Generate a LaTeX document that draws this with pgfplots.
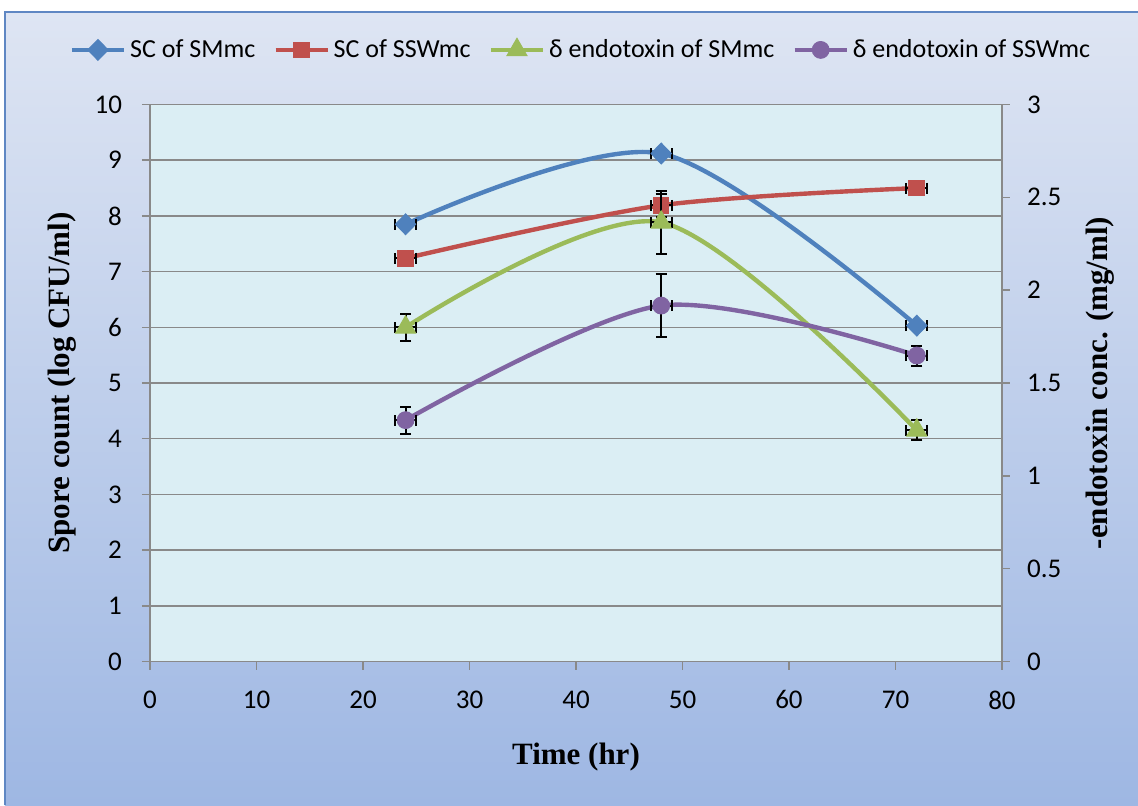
\documentclass[border=0pt]{standalone}
\usepackage{pgfplots}
\pgfplotsset{compat=1.18}
\usepackage{pgfplotstable}
\usepackage{fontspec}
\setmainfont{Carlito}
\newfontfamily\tnr{Liberation Serif}
\definecolor{c1}{RGB}{79,129,189}
\definecolor{c2}{RGB}{192,80,77}
\definecolor{c3}{RGB}{155,187,89}
\definecolor{c4}{RGB}{128,100,162}
\definecolor{plotbg}{RGB}{219,238,244}
\definecolor{gridc}{RGB}{137,137,137}
\definecolor{bgtop}{RGB}{222,229,243}
\definecolor{bgbot}{RGB}{158,183,227}
\definecolor{framec}{RGB}{95,135,195}

% Spore count (left axis)
\pgfplotstableread{
x y ex ey
24 7.85 1 0.05
48 9.12 1 0.07
72 6.03 1 0.05
}\scsm
\pgfplotstableread{
x y ex ey
24 7.24 1 0.05
48 8.19 1 0.21
72 8.50 1 0.03
}\scssw
% delta endotoxin (right axis)
\pgfplotstableread{
x y ex ey
24 1.800 1 0.073
48 2.365 1 0.170
72 1.245 1 0.054
}\dsm
\pgfplotstableread{
x y ex ey
24 1.300 1 0.073
48 1.917 1 0.170
72 1.648 1 0.054
}\dssw

\pgfplotsset{
  common/.style={scale only axis, width=426pt, height=278.5pt, xmin=0, xmax=80,
    tick align=outside, major tick length=4pt,
    tick style={gridc, line width=0.75pt},
    axis line style={gridc, line width=0.75pt, -},
    tick label style={font=\fontsize{13.5}{15}\selectfont},
    /pgf/number format/assume math mode=true,
    label style={font=\tnr\bfseries\fontsize{15.5}{18}\selectfont}},
  ser/.style={line width=2.2pt, smooth, tension=0.5,
    error bars/x dir=both, error bars/y dir=both,
    error bars/x explicit, error bars/y explicit,
    error bars/error mark=-,
    error bars/error bar style={black, line width=1pt, solid},
    error bars/error mark options={rotate=90, black, line width=1pt, mark size=2.75pt, solid}},
}

\begin{document}
\begin{tikzpicture}
\shade[top color=bgtop, bottom color=bgbot] (-72.5pt,-71.75pt) rectangle (494pt,324.75pt);
\draw[framec, line width=1pt] (-72.5pt,-71.75pt) -- (-72.5pt,324.75pt) -- (494pt,324.75pt);

\begin{axis}[common,
  ymin=0, ymax=10, ytick={0,1,...,10},
  xtick={0,10,...,80},
  axis x line*=bottom, axis y line*=left,
  axis background/.style={fill=plotbg},
  ymajorgrids, grid style={gridc, line width=0.75pt},
  yticklabel style={xshift=-6.5pt},
  xticklabel style={yshift=-7pt},
  xlabel={Time (hr)}, ylabel={Spore count (log CFU/ml)},
  xlabel style={at={(axis description cs:0.5,-0.1724)}, anchor=center},
  ylabel style={at={(axis description cs:-0.1033,0.5)}, anchor=center},
]
\addplot[c1, ser, mark=diamond*, mark options={xscale=1.3, fill=c1, draw=c1, line width=0.5pt, mark size=5.2pt}]
  table[x=x, y=y, x error=ex, y error=ey] {\scsm};
\addplot[c2, ser, mark=square*, mark options={fill=c2, draw=c2, line width=0.5pt, mark size=3.9pt}]
  table[x=x, y=y, x error=ex, y error=ey] {\scssw};
\end{axis}

\begin{axis}[common,
  ymin=0, ymax=3, ytick={0,0.5,1,1.5,2,2.5,3},
  axis y line*=right, axis x line=none,
  yticklabel style={xshift=5pt},
  ylabel={-endotoxin conc. (mg/ml)},
  ylabel style={at={(axis description cs:1.115,0.5)}, anchor=center},
  legend style={at={(axis description cs:0.507,1.098)}, anchor=center, draw=none, fill=none,
    font=\fontsize{13}{15}\selectfont, legend columns=-1,
    /tikz/every even column/.append style={column sep=7pt}},
  legend image code/.code={\draw[mark repeat=2, mark phase=2] plot coordinates {(0pt,0pt) (13pt,0pt) (26pt,0pt)};},
]
\addlegendimage{c1, line width=2.2pt, mark=diamond*, mark options={xscale=1.3, fill=c1, draw=c1, line width=0.5pt, mark size=5.2pt}}
\addlegendentry{SC of SMmc}
\addlegendimage{c2, line width=2.2pt, mark=square*, mark options={fill=c2, draw=c2, line width=0.5pt, mark size=3.9pt}}
\addlegendentry{SC of SSWmc}
\addplot[c3, ser, mark=triangle*, mark options={fill=c3, draw=c3, line width=0.5pt, mark size=5.8pt}]
  table[x=x, y=y, x error=ex, y error=ey] {\dsm};
\addlegendentry{δ endotoxin of SMmc}
\addplot[c4, ser, mark=*, mark options={fill=c4, draw=c4, line width=0.5pt, mark size=4.2pt}]
  table[x=x, y=y, x error=ex, y error=ey] {\dssw};
\addlegendentry{δ endotoxin of SSWmc}
\end{axis}

\pgfresetboundingbox
\useasboundingbox (-75pt,-71.75pt) rectangle (494pt,330.75pt);
\end{tikzpicture}
\end{document}
